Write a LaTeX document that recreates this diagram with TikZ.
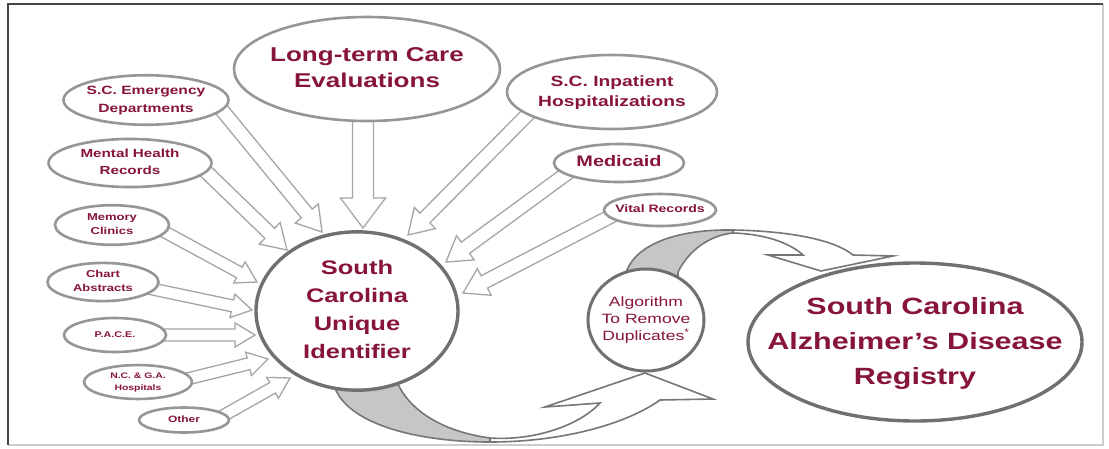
\documentclass[tikz,border=0pt]{standalone}
\usepackage{fontspec}
\setmainfont[FakeStretch=1.3]{Liberation Sans}
\usetikzlibrary{shapes.geometric,calc}
\definecolor{maroon}{RGB}{135,20,60}
\definecolor{ringgray}{RGB}{150,150,150}
\definecolor{darkring}{RGB}{112,112,112}
\definecolor{arrowgray}{RGB}{165,165,165}
\definecolor{bandgray}{RGB}{118,118,118}
\definecolor{bandfill}{RGB}{198,198,198}
\definecolor{framedark}{RGB}{70,70,70}
\definecolor{framelight}{RGB}{205,205,205}
\newcommand\fsz[2]{\fontsize{#1}{#2}\selectfont}
% centred label lines that do not widen the ellipse around them
\newcommand\lines[1]{\makebox[0pt]{\begin{tabular}{@{}c@{}}#1\end{tabular}}}
% hollow straight block arrow: tail, tip, half shaft, half head, head length
\newcommand\blockarrow[5]{%
  \coordinate (ba-h) at ($(#2)!#5!(#1)$);
  \draw[arrowbody] ($(#1)!#3!90:(#2)$) -- ($(ba-h)!#3!90:(#2)$)
    -- ($(ba-h)!#4!90:(#2)$) -- (#2) -- ($(ba-h)!#4!-90:(#2)$)
    -- ($(ba-h)!#3!-90:(#2)$) -- ($(#1)!#3!-90:(#2)$) -- cycle;
}
\begin{document}
\begin{tikzpicture}[x=1pt,y=-1pt,
  source/.style={ellipse, draw=ringgray, line width=2.6pt, fill=white,
    inner sep=0pt, text=maroon},
  hub/.style={source, draw=darkring, line width=3.4pt},
  arrowbody/.style={draw=arrowgray, fill=white, line width=1.3pt, line join=miter},
  bandback/.style={draw=bandgray, fill=bandfill, line width=1.6pt, line join=round},
  bandfront/.style={draw=bandgray, fill=white, line width=1.6pt, line join=miter}]

\useasboundingbox (0,0) rectangle (1109,448);
\fill[white] (0,0) rectangle (1109,448);
\draw[framelight, line width=1.2pt] (8,445) -- (1103,445) -- (1103,4);
\draw[framedark, line width=1.5pt] (8,445) -- (8,4) -- (1103,4);

% arrow ends
\coordinate (ed-out) at (212,98);   \coordinate (ed-in) at (322,232);
\coordinate (mh-out) at (194,160);  \coordinate (mh-in) at (287,250);
\coordinate (mc-out) at (152,225);  \coordinate (mc-in) at (257,282);
\coordinate (ca-out) at (143,287);  \coordinate (ca-in) at (252,310);
\coordinate (pa-out) at (150,335);  \coordinate (pa-in) at (255,335);
\coordinate (nc-out) at (175,382);  \coordinate (nc-in) at (268,359);
\coordinate (ot-out) at (212,422);  \coordinate (ot-in) at (290,378);
\coordinate (lt-out) at (363,110);  \coordinate (lt-in) at (363,228);
\coordinate (ip-out) at (538,104);  \coordinate (ip-in) at (408,235);
\coordinate (md-out) at (577,166);  \coordinate (md-in) at (446,262);
\coordinate (vr-out) at (621,211);  \coordinate (vr-in) at (463,293);

% feeder arrows into the unique identifier
\blockarrow{ed-out}{ed-in}{7pt}{15pt}{24pt}
\blockarrow{mh-out}{mh-in}{7pt}{15pt}{24pt}
\blockarrow{mc-out}{mc-in}{6pt}{12pt}{20pt}
\blockarrow{ca-out}{ca-in}{6pt}{12pt}{20pt}
\blockarrow{pa-out}{pa-in}{6pt}{12pt}{20pt}
\blockarrow{nc-out}{nc-in}{6pt}{12pt}{20pt}
\blockarrow{ot-out}{ot-in}{6pt}{12pt}{20pt}
\blockarrow{lt-out}{lt-in}{10.5pt}{22.5pt}{30pt}
\blockarrow{ip-out}{ip-in}{7pt}{15pt}{24pt}
\blockarrow{md-out}{md-in}{7pt}{15pt}{24pt}
\blockarrow{vr-out}{vr-in}{7pt}{15pt}{24pt}

% curved arrow: identifier -> algorithm
\filldraw[bandback] (333,376) -- (333,382) .. controls (343,425) and (420,442) .. (490,442)
  -- (490,438) .. controls (445,432) and (410,412) .. (397,382) -- (397,376) -- cycle;
\filldraw[bandfront] (490,442) .. controls (560,442) and (625,425) .. (660,400)
  -- (713,399) -- (645,373) -- (545,407) -- (600,403)
  .. controls (580,425) and (535,441) .. (490,438) -- cycle;

% curved arrow: algorithm -> registry
\filldraw[bandback] (627,280) -- (627,270) .. controls (638,243) and (680,229) .. (733,230)
  -- (733,233) .. controls (712,235) and (690,248) .. (678,272) -- (678,280) -- cycle;
\filldraw[bandfront] (733,230) .. controls (790,231) and (835,240) .. (853,255)
  -- (893,256) -- (821,271) -- (768,255) -- (803,255)
  .. controls (790,243) and (765,234) .. (733,233) -- cycle;

% data sources
\node[source, minimum width=266pt, minimum height=104pt, font=\bfseries\fsz{20}{26}]
  (ltc) at (367,69) {\raisebox{-3pt}{\lines{Long-term Care\\Evaluations}}};
\node[source, minimum width=165pt, minimum height=48pt, font=\bfseries\fsz{12}{17.5}]
  (ed) at (146,100) {\lines{S.C. Emergency\\Departments}};
\node[source, minimum width=163pt, minimum height=44pt, font=\bfseries\fsz{11.7}{17}]
  (mh) at (130,163) {\lines{Mental Health\\Records}};
\node[source, minimum width=114pt, minimum height=34pt, font=\bfseries\fsz{10}{14}]
  (mc) at (112,225) {\lines{Memory\\Clinics}};
\node[source, minimum width=111pt, minimum height=38pt, font=\bfseries\fsz{10}{13.5}]
  (ca) at (103,282) {\lines{Chart\\Abstracts}};
\node[source, minimum width=102pt, minimum height=34pt, font=\bfseries\fsz{8.3}{10}]
  (pace) at (115,335) {\lines{P.A.C.E.}};
\node[source, minimum width=108pt, minimum height=30pt, font=\bfseries\fsz{8}{12}]
  (ncga) at (138,382) {\lines{N.C. \& G.A.\\Hospitals}};
\node[source, minimum width=90pt, minimum height=25pt, font=\bfseries\fsz{9.2}{11}]
  (oth) at (184,420) {\lines{Other}};
\node[source, minimum width=210pt, minimum height=74pt, font=\bfseries\fsz{14.8}{20}]
  (inp) at (612,92) {\lines{S.C. Inpatient\\Hospitalizations}};
\node[source, minimum width=130pt, minimum height=38pt, font=\bfseries\fsz{15.3}{18}]
  (mcd) at (619,163) {\lines{Medicaid}};
\node[source, minimum width=112pt, minimum height=32pt, font=\bfseries\fsz{10.8}{13}]
  (vit) at (660,210) {\lines{Vital Records}};

% central identifier, de-duplication step and registry
\node[hub, minimum width=202pt, minimum height=154pt, font=\bfseries\fsz{19.6}{28}]
  (uid) at (357,311) {\raisebox{-3pt}{\lines{South\\Carolina\\Unique\\Identifier}}};
\node[hub, line width=3pt, minimum width=116pt, minimum height=102pt, font=\fsz{13.5}{17}]
  (algo) at (646,320) {\lines{Algorithm\\To Remove\\Duplicates\textsuperscript{*}}};
\node[hub, minimum width=334pt, minimum height=158pt, font=\bfseries\fsz{23.5}{35}]
  (reg) at (915,342) {\lines{South Carolina\\Alzheimer’s Disease\\Registry}};
\end{tikzpicture}
\end{document}
